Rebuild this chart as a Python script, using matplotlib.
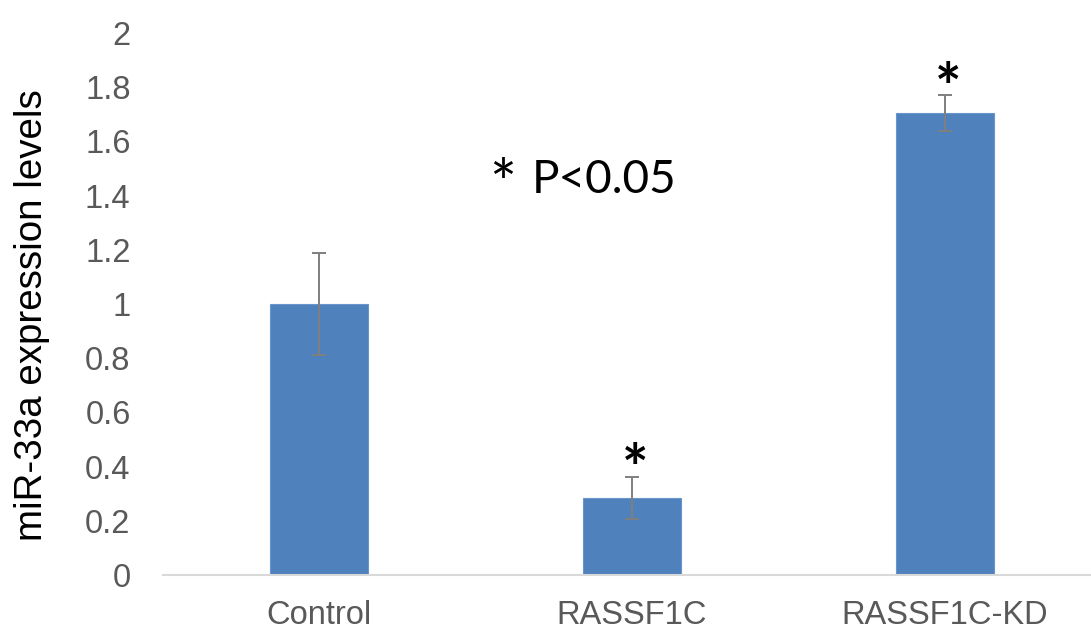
import matplotlib
matplotlib.use("Agg")
import matplotlib.pyplot as plt

# miR-33a expression, relative to control
groups = ["Control", "RASSF1C", "RASSF1C-KD"]
expression = [1.0, 0.285, 1.705]
sem = [0.19, 0.078, 0.065]
significant = [False, True, True]

bar_color = "#4F81BD"
err_color = "#7F7F7F"
label_color = "#595959"

plt.rcParams["font.family"] = ["Liberation Sans", "DejaVu Sans"]

fig = plt.figure(figsize=(10.91, 6.33), dpi=100)
ax = fig.add_axes([162.5 / 1091, 58 / 633, 939 / 1091, 542 / 633])

x = list(range(len(groups)))
ax.bar(x, expression, width=0.313, color=bar_color, edgecolor="#6A95CC",
       linewidth=0.8, zorder=2)
ax.errorbar(x, expression, yerr=sem, fmt="none", ecolor=err_color,
            elinewidth=1.4, capsize=5, capthick=1.4, zorder=3)

# significance stars above the error bars
for xi, val, err, sig in zip(x, expression, sem, significant):
    if sig:
        ax.annotate("*", (xi, val + err), xytext=(2, -18.5),
                    textcoords="offset points", ha="center", va="bottom",
                    fontsize=45, fontfamily="Lato", fontweight="bold",
                    color="black")

ax.text(0.544, 1.362, "*", fontsize=46, fontfamily="Lato",
        color="black", ha="left", va="baseline")
ax.text(0.679, 1.41, "P<0.05", fontsize=33, fontfamily="Lato",
        color="black", ha="left", va="baseline")

ax.set_xlim(-0.5, 2.5)
ax.set_ylim(0, 2)
ax.set_yticks([0, 0.2, 0.4, 0.6, 0.8, 1.0, 1.2, 1.4, 1.6, 1.8, 2.0])
ax.set_yticklabels(["0", "0.2", "0.4", "0.6", "0.8", "1", "1.2", "1.4",
                    "1.6", "1.8", "2"])
ax.set_xticks(x)
ax.set_xticklabels(groups)
ax.tick_params(axis="y", length=0, pad=23, labelsize=23.5,
               labelcolor=label_color)
ax.tick_params(axis="x", length=0, pad=18, labelsize=23.5,
               labelcolor=label_color)

for side in ["top", "right", "left"]:
    ax.spines[side].set_visible(False)
ax.spines["bottom"].set_color("#D9D9D9")
ax.spines["bottom"].set_linewidth(1.5)

ax.set_ylabel("miR-33a expression levels", fontsize=27.7, color="black")
ax.yaxis.set_label_coords(-0.1195, 0.48)

fig.savefig("out.png", dpi=100)
